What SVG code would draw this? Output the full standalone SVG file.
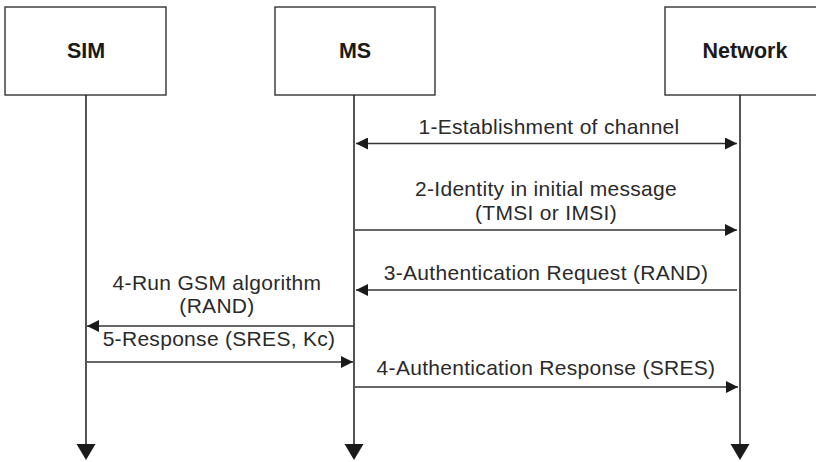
<svg xmlns="http://www.w3.org/2000/svg" width="816" height="462" viewBox="0 0 816 462">
<style>
.box{fill:#fff;stroke:#333;stroke-width:1.4}
.life{stroke:#2a2a2a;stroke-width:1.6;fill:none}
.msg{stroke:#333;stroke-width:1.4;fill:none}
.head{fill:#1a1a1a}
.title{font-family:"Liberation Sans",Arial,sans-serif;font-weight:bold;font-size:21.5px;fill:#1a1a1a;text-anchor:middle}
.lbl{font-family:"Liberation Sans",Arial,sans-serif;font-size:21px;letter-spacing:0.3px;fill:#2a2a2a;text-anchor:middle}
</style>
<defs>
<marker id="ah" markerWidth="12" markerHeight="12" refX="12" refY="6" orient="auto" markerUnits="userSpaceOnUse">
<path d="M0,0 L12,6 L0,12 Z" class="head"/>
</marker>
<marker id="as" markerWidth="12" markerHeight="12" refX="0" refY="6" orient="auto" markerUnits="userSpaceOnUse">
<path d="M12,0 L0,6 L12,12 Z" class="head"/>
</marker>
</defs>
<g id="sim">
<rect class="box" x="5" y="7" width="161" height="88"/>
<text class="title" x="86" y="58">SIM</text>
</g>
<g id="ms">
<rect class="box" x="275" y="7" width="160" height="88"/>
<text class="title" x="355" y="58">MS</text>
</g>
<g id="network">
<rect class="box" x="665" y="7" width="160" height="88"/>
<text class="title" x="745" y="58">Network</text>
</g>
<g id="connectors">
<line class="life" x1="86" y1="95" x2="86" y2="446"/>
<polygon class="head" points="76.5,444 95.5,444 86,460"/>
<line class="life" x1="354" y1="95" x2="354" y2="446"/>
<polygon class="head" points="344.5,444 363.5,444 354,460"/>
<line class="life" x1="740" y1="95" x2="740" y2="446"/>
<polygon class="head" points="730.5,444 749.5,444 740,460"/>

<line class="msg" x1="356" y1="143.5" x2="737" y2="143.5" marker-start="url(#as)" marker-end="url(#ah)"/>
<line class="msg" x1="355" y1="230" x2="737" y2="230" marker-end="url(#ah)"/>
<line class="msg" x1="737" y1="290" x2="356" y2="290" marker-end="url(#ah)"/>
<line class="msg" x1="354" y1="326" x2="87" y2="326" marker-end="url(#ah)"/>
<line class="msg" x1="87" y1="362" x2="353" y2="362" marker-end="url(#ah)"/>
<line class="msg" x1="355" y1="387" x2="738" y2="387" marker-end="url(#ah)"/>
</g>
<g id="labels">
<text class="lbl" x="549" y="134">1-Establishment of channel</text>
<text class="lbl" x="546" y="196">2-Identity in initial message</text>
<text class="lbl" x="546" y="220">(TMSI or IMSI)</text>
<text class="lbl" x="546" y="280">3-Authentication Request (RAND)</text>
<text class="lbl" x="217" y="290">4-Run GSM algorithm</text>
<text class="lbl" x="217" y="313">(RAND)</text>
<text class="lbl" x="219" y="346">5-Response (SRES, Kc)</text>
<text class="lbl" x="546" y="375">4-Authentication Response (SRES)</text>
</g>
</svg>
